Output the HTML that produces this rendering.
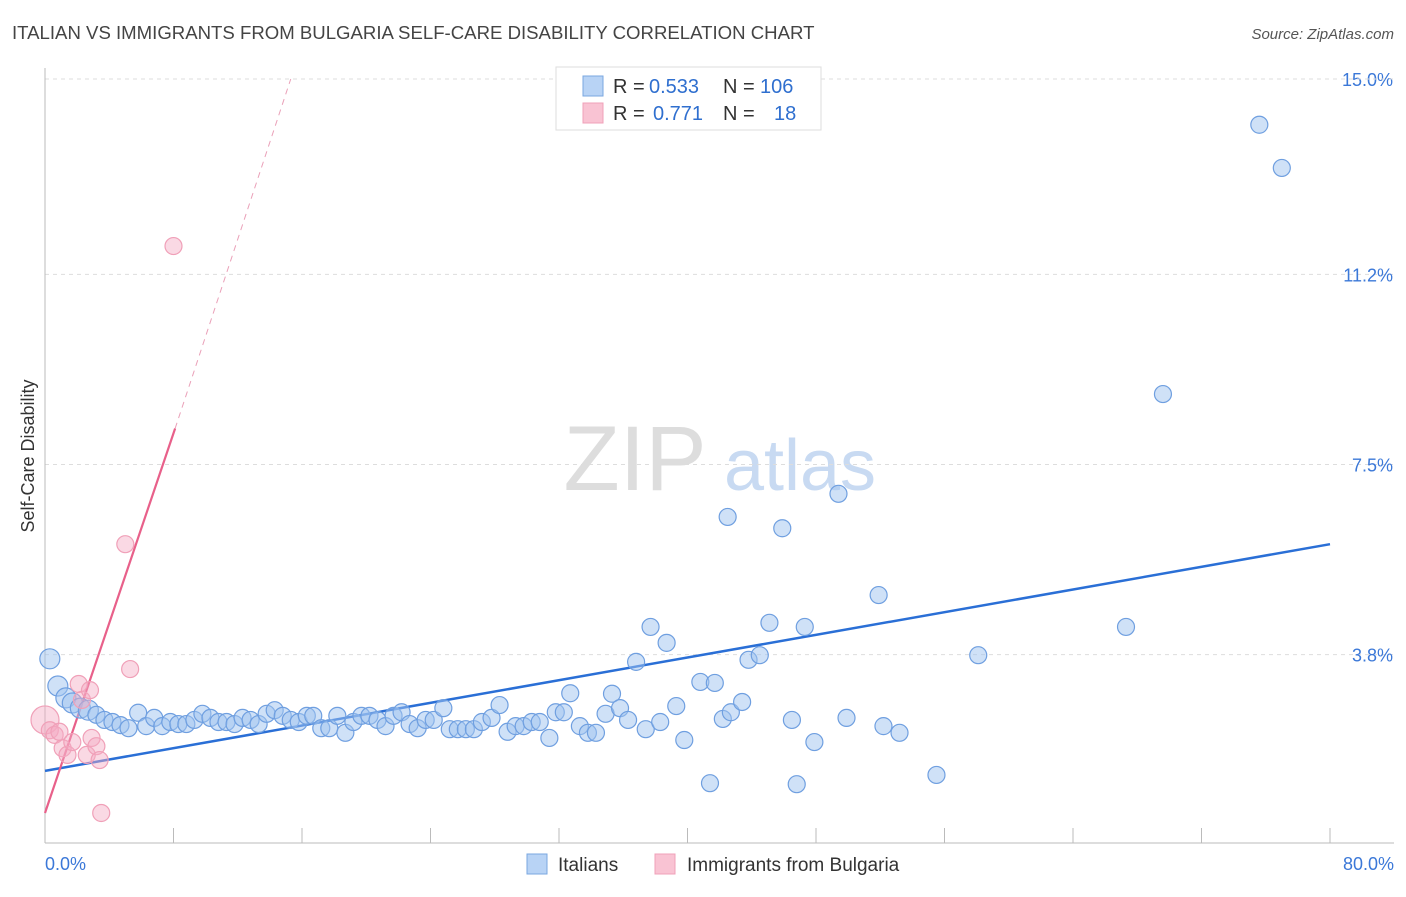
<!DOCTYPE html>
<html><head><meta charset="utf-8"><style>
body{margin:0;background:#fff;font-family:"Liberation Sans",sans-serif;}
svg text{font-family:"Liberation Sans",sans-serif;}
</style></head><body>
<svg id="chart" width="1406" height="892">
<text x="12" y="39" font-size="18.6" fill="#444">ITALIAN VS IMMIGRANTS FROM BULGARIA SELF-CARE DISABILITY CORRELATION CHART</text>
<text x="1394" y="39" font-size="15" fill="#555" font-style="italic" text-anchor="end">Source: ZipAtlas.com</text>
<text x="34" y="456" font-size="18" fill="#333" text-anchor="middle" transform="rotate(-90 34 456)">Self-Care Disability</text>
<g><text x="635" y="490" font-size="92" fill="#ddd" font-family="Liberation Serif" text-anchor="middle">ZIP</text><text x="800" y="490" font-size="72" fill="#c8daf2" text-anchor="middle">atlas</text></g>
<g id="grid"></g><g id="axes"></g><g id="lines"></g><g id="pts"></g>
<g>
<rect x="556" y="67" width="265" height="63" fill="#fff" stroke="#ddd"/>
<rect x="583" y="76" width="20" height="20" fill="#b8d3f5" stroke="#7aa7e0"/>
<rect x="583" y="103" width="20" height="20" fill="#f9c3d3" stroke="#f0a0b8"/>
<text x="613" y="93" font-size="20" fill="#333">R =</text>
<text x="649" y="93" font-size="20" fill="#2f6fcf">0.533</text>
<text x="723" y="93" font-size="20" fill="#333">N =</text>
<text x="760" y="93" font-size="20" fill="#2f6fcf">106</text>
<text x="613" y="120" font-size="20" fill="#333">R =</text>
<text x="653" y="120" font-size="20" fill="#2f6fcf">0.771</text>
<text x="723" y="120" font-size="20" fill="#333">N =</text>
<text x="774" y="120" font-size="20" fill="#2f6fcf">18</text>
</g>
<g>
<rect x="527" y="854" width="20" height="20" fill="#b8d3f5" stroke="#7aa7e0"/>
<text x="558" y="871" font-size="19" fill="#333">Italians</text>
<rect x="655" y="854" width="20" height="20" fill="#f9c3d3" stroke="#f0a0b8"/>
<text x="687" y="871" font-size="19" fill="#333">Immigrants from Bulgaria</text>
</g>
</svg>
<script>
const yTicks=[3.8,7.5,11.2,15.0];
const yTickLabels=["3.8%","7.5%","11.2%","15.0%"];
const xTickLabels=["0.0%","80.0%"];
const blueX=[0.3,0.8,1.3,1.7,2.2,2.7,3.2,3.7,4.2,4.7,5.2,5.8,6.3,6.8,7.3,7.8,8.3,8.8,9.3,9.8,10.3,10.8,11.3,11.8,12.3,12.8,13.3,13.8,14.3,14.8,15.3,15.8,16.3,16.7,17.2,17.7,18.2,18.7,19.2,19.7,20.2,20.7,21.2,21.7,22.2,22.7,23.2,23.7,24.2,24.8,25.2,25.7,26.2,26.7,27.2,27.8,28.3,28.8,29.3,29.8,30.3,30.8,31.4,31.8,32.3,32.7,33.3,33.8,34.3,34.9,35.3,35.8,36.3,36.8,37.4,37.7,38.3,38.7,39.3,39.8,40.8,41.4,41.7,42.2,42.5,42.7,43.4,43.8,44.5,45.1,45.9,46.5,46.8,47.3,47.9,49.4,49.9,51.9,52.2,53.2,55.5,58.1,67.3,69.6,75.6,77.0];
const blueY=[3.72,3.19,2.96,2.86,2.76,2.72,2.63,2.53,2.49,2.43,2.37,2.67,2.41,2.57,2.41,2.49,2.45,2.45,2.53,2.65,2.57,2.49,2.49,2.45,2.57,2.53,2.45,2.65,2.72,2.61,2.53,2.49,2.61,2.61,2.37,2.37,2.61,2.28,2.49,2.61,2.61,2.53,2.41,2.61,2.68,2.45,2.37,2.53,2.53,2.76,2.35,2.35,2.35,2.35,2.49,2.57,2.82,2.30,2.41,2.41,2.49,2.49,2.18,2.68,2.68,3.05,2.41,2.28,2.28,2.65,3.04,2.76,2.53,3.66,2.35,4.34,2.49,4.03,2.80,2.14,3.27,1.30,3.25,2.55,6.48,2.68,2.88,3.70,3.79,4.42,6.26,2.53,1.28,4.34,2.10,6.93,2.57,4.96,2.41,2.28,1.46,3.79,4.34,8.87,14.11,13.27];
const pinkX=[0,0.3,0.6,1.1,1.4,1.7,2.1,2.3,2.6,2.8,2.9,3.2,3.4,3.5,5.0,5.3,8.0,0.9];
const pinkY=[2.53,2.33,2.24,1.98,1.85,2.10,3.23,2.92,1.85,3.11,2.18,2.02,1.75,0.72,5.95,3.52,11.75,2.30];
const blueLine=[[0,1.54],[80,5.95]];
const pinkLine=[[0,0.72],[8.1,8.2]];
const pinkDash=[[8.1,8.2],[15.3,15.0]];
const L=45,R=1330,B=850,PX=1285/80,PY=51.4;
const sx=v=>L+v*PX, sy=v=>B-v*PY;
const NS="http://www.w3.org/2000/svg";
function mk(tag,parent,attrs){const e=document.createElementNS(NS,tag);for(const k in attrs)e.setAttribute(k,attrs[k]);document.getElementById(parent).appendChild(e);return e;}
yTicks.forEach((t,i)=>{
 const g=mk('line','grid',{x1:L,x2:1394,y1:sy(t),y2:sy(t),stroke:'#ddd','stroke-dasharray':'4,4'});
 
 
 const tx=mk('text','grid',{x:1393,y:sy(t)+7,'font-size':18,fill:'#3b78d8','text-anchor':'end'});
 tx.textContent=yTickLabels[i];
 
 
});
const topLine=mk('line','grid',{x1:L,x2:1394,y1:79,y2:79,stroke:'#ddd','stroke-dasharray':'4,4'});


const ya=mk('line','axes',{x1:L,x2:L,y1:68,y2:843,stroke:'#bbb'});


const xa=mk('line','axes',{x1:L,x2:1394,y1:843,y2:843,stroke:'#bbb'});


for(let i=1;i<=10;i++){const t=mk('line','axes',{x1:sx(i*8),x2:sx(i*8),y1:828,y2:843,stroke:'#bbb'});
 
 }
[[0,'start',L],[80,'end',1394]].forEach((d,i)=>{const t=mk('text','axes',{x:d[2],y:870,'font-size':18,fill:'#3b78d8','text-anchor':d[1]});t.textContent=xTickLabels[i];
 
 });
blueX.forEach((x,i)=>{const c=mk('circle','pts',{cx:sx(x),cy:sy(blueY[i]),r:x<3?10:8.5,fill:'rgba(160,196,240,0.5)',stroke:'#6f9fe0','stroke-width':1.2});
 
 });
pinkX.forEach((x,i)=>{const c=mk('circle','pts',{cx:sx(x),cy:sy(pinkY[i]),r:i==0?14:8.5,fill:'rgba(245,170,195,0.45)',stroke:'#f0a0b8','stroke-width':1.2});
 
 });
const bl=mk('line','lines',{x1:sx(blueLine[0][0]),y1:sy(blueLine[0][1]),x2:sx(blueLine[1][0]),y2:sy(blueLine[1][1]),stroke:'#2a6fd6','stroke-width':2.5});


const pl=mk('line','lines',{x1:sx(pinkLine[0][0]),y1:sy(pinkLine[0][1]),x2:sx(pinkLine[1][0]),y2:sy(pinkLine[1][1]),stroke:'#e8608a','stroke-width':2.2});


const pd=mk('line','lines',{x1:sx(pinkDash[0][0]),y1:sy(pinkDash[0][1]),x2:sx(pinkDash[1][0]),y2:sy(pinkDash[1][1]),stroke:'#eaa0b8','stroke-width':1,'stroke-dasharray':'6,5'});


</script>
</body></html>
